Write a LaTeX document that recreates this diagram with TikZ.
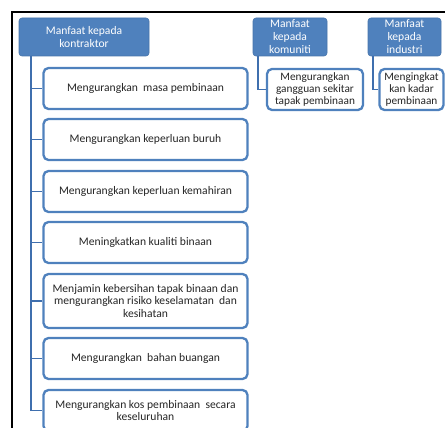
\documentclass[tikz,border=0pt]{standalone}
\usepackage{fontspec}
\setmainfont{Carlito}
\usepackage{xcolor}
\usepackage{tikz}
\usetikzlibrary{positioning,calc}
\definecolor{hdrBlue}{HTML}{4F81BD}
\definecolor{lineBlue}{HTML}{3F6FAE}

\begin{document}
\begin{tikzpicture}[x=1pt,y=-1pt,font=\fontsize{11.6}{12.4}\selectfont,
  head/.style={draw=hdrBlue!90!black,fill=hdrBlue,text=white,rounded corners=3,
    inner sep=0pt,align=center,line width=0.6,font=\fontsize{11.6}{13}\selectfont},
  item/.style={draw=hdrBlue,line width=2.3,fill=white,rounded corners=5,
    inner sep=0pt,align=center,text=black!85,minimum height=41},
  link/.style={draw=lineBlue,line width=1.8}]
\clip (0,0) rectangle (445,428);
\useasboundingbox (0,0) rectangle (445,428);
% frame
\draw[line width=1.4] (12,430) -- (12,12) -- (446,12);
% heads
\node[head,minimum width=130,minimum height=38] (kon) at (84,37) {Manfaat kepada\\kontraktor};
\node[head,minimum width=74,minimum height=38] (kom) at (290,37) {Manfaat\\kepada\\komuniti};
\node[head,minimum width=73,minimum height=38] (ind) at (404.5,37) {Manfaat\\kepada\\industri};
% kontraktor
\node[item,minimum width=204] (k1) at (145.5,88.5) {Mengurangkan\ \ masa pembinaan};
\node[item,minimum width=204] (k2) at (145.5,139.5) {Mengurangkan keperluan buruh};
\node[item,minimum width=204] (k3) at (145.5,191.5) {Mengurangkan keperluan kemahiran};
\node[item,minimum width=204] (k4) at (145.5,242.5) {Meningkatkan kualiti binaan};
\node[item,minimum width=204,minimum height=54] (k5) at (145.5,301)
  {Menjamin kebersihan tapak binaan dan\\mengurangkan risiko keselamatan\ \ dan\\kesihatan};
\node[item,minimum width=204] (k6) at (145.5,358.5) {Mengurangkan\ \ bahan buangan};
\node[item,minimum width=204] (k7) at (145.5,410.5) {Mengurangkan kos pembinaan\ \ secara\\keseluruhan};
% komuniti, industri
\node[item,minimum width=96,font=\fontsize{11.3}{12}\selectfont] (kom1) at (315,89.5) {Mengurangkan\\gangguan sekitar\\tapak pembinaan};
\node[item,minimum width=64,font=\fontsize{11.3}{12}\selectfont] (ind1) at (411.5,89.5) {Mengingkat\\kan kadar\\pembinaan};
% links
\coordinate (konroot) at ([xshift=12]kon.south west);
\coordinate (komroot) at ([xshift=5]kom.south west);
\coordinate (indroot) at ([xshift=5]ind.south west);
\foreach \k in {k1,k2,k3,k4,k5,k6,k7}
  \draw[link] (konroot) |- (\k.west);
\draw[link] (komroot) |- (kom1.west);
\draw[link] (indroot) |- (ind1.west);
\end{tikzpicture}
\end{document}
